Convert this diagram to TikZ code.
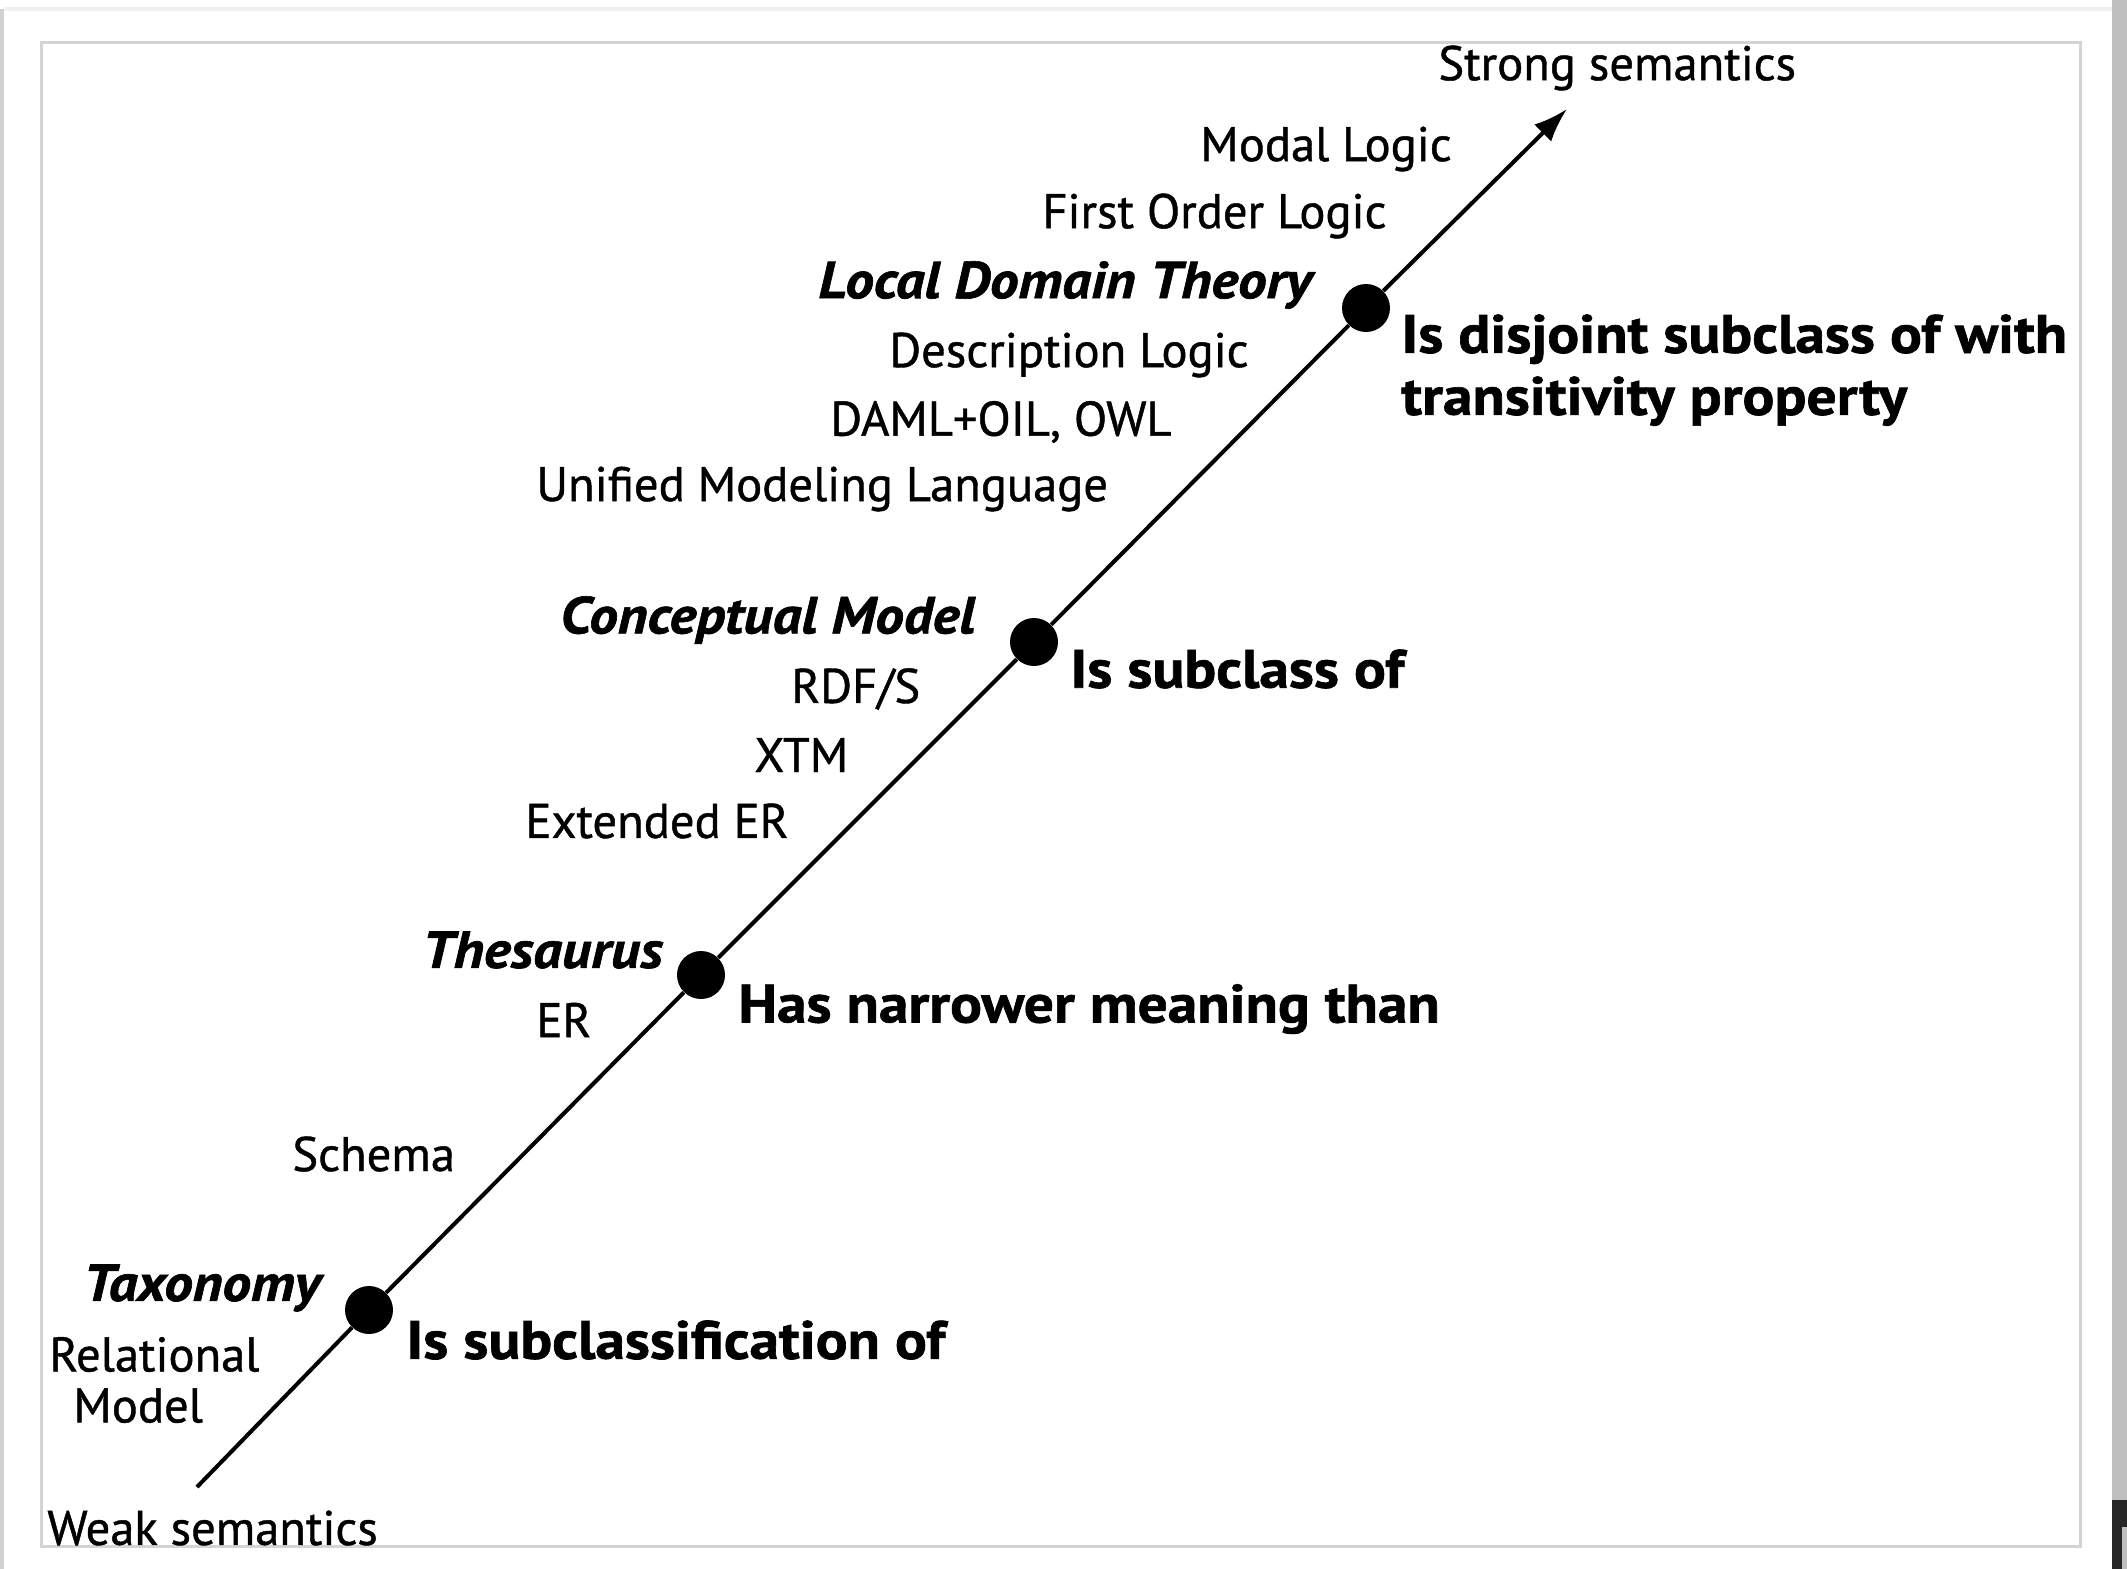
\documentclass[tikz,border=0pt]{standalone}
\usepackage{fontspec}
\setmainfont{PT Sans}[FakeBold=0.9]
\newfontfamily\heavyfont{PT Sans}[FakeStretch=1.1, BoldFeatures={FakeBold=1.2}, BoldItalicFeatures={FakeBold=1.2}]
\usetikzlibrary{arrows.meta}
\tikzset{
  lab/.style={inner sep=0pt, anchor=west, font=\fontsize{24.3}{28}\selectfont},
  rel/.style={inner sep=0pt, anchor=west, align=left, font=\heavyfont\bfseries\fontsize{27}{31}\selectfont},
  kind/.style={inner sep=0pt, anchor=west, font=\heavyfont\bfseries\itshape\fontsize{26}{30}\selectfont},
  dot/.style={circle, fill=black, minimum size=24pt, inner sep=0pt},
  axis/.style={line width=2pt, -{Latex[length=17pt,width=12pt]}},
}
\begin{document}
\begin{tikzpicture}[x=0.5pt, y=-0.5pt]
\useasboundingbox (0,0) rectangle (2127,1569);
\fill[white] (0,0) rectangle (2127,1569);
% page shadow
\fill[black!18] (0,9) rectangle (4,1569);
\fill[black!6] (4,7) rectangle (2112,11);
\fill[black!25] (2112,0) rectangle (2127,1569);
\fill[black!85] (2112,1500) rectangle (2127,1527);
\fill[black!85] (2112,1527) rectangle (2122,1569);
% frame
\draw[black!17, line width=1.5pt] (41,42) rectangle (2080,1546);
% axis
\coordinate (lo) at (197,1487);
\coordinate (hi) at (1567,109);
\node[dot] (d1) at (369,1310) {};
\node[dot] (d2) at (701,975) {};
\node[dot] (d3) at (1034,642) {};
\node[dot] (d4) at (1366,308) {};
\draw[axis] (lo) -- (d1) -- (d2) -- (d3) -- (d4) -- (hi);
% top/bottom labels
\node[lab] (strong) at (1438,68) {Strong semantics};
\node[lab] (weak) at (47,1528) {Weak semantics};
% left labels
\node[lab] (modal) at (1200,149) {Modal Logic};
\node[lab] (fol) at (1042,216) {First Order Logic};
\node[kind] (ldt) at (818,285) {Local Domain Theory};
\node[lab] (dl) at (889,355) {Description Logic};
\node[lab] (daml) at (830,422) {DAML+OIL, OWL};
\node[lab] (uml) at (536,489) {Unified Modeling Language};
\node[kind] (cm) at (560,620) {Conceptual Model};
\node[lab] (rdfs) at (791,689) {RDF/S};
\node[lab] (xtm) at (754,755) {XTM};
\node[lab] (eer) at (525,821) {Extended ER};
\node[kind] (thes) at (422,950) {Thesaurus};
\node[lab] (er) at (536,1020) {ER};
\node[lab] (schema) at (292,1154) {Schema};
\node[kind] (tax) at (83,1288) {Taxonomy};
\node[lab, align=left, font=\fontsize{24.3}{25.5}\selectfont] (relm) at (49,1380) {Relational\\\hspace*{12pt}Model};
% right relation labels
\node[rel, anchor=north west] (r4) at (1401,314) {Is disjoint subclass of with\\transitivity property};
\node[rel] (r3) at (1070,669) {Is subclass of};
\node[rel] (r2) at (738,1009) {Has narrower meaning than};
\node[rel] (r1) at (406,1340) {Is subclassification of};
\end{tikzpicture}
\end{document}
